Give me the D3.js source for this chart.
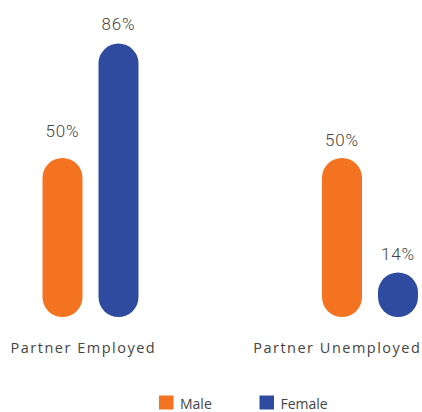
<!DOCTYPE html>
<html>
<head>
<meta charset="utf-8">
<script src="https://cdn.jsdelivr.net/npm/d3@7"></script>
<style>
  html, body { margin: 0; padding: 0; background: #ffffff; }
  svg { display: block; }
</style>
</head>
<body>
<svg id="chart" width="422" height="412"></svg>
<script>
// ---- data ----
const categories = ["Partner Employed", "Partner Unemployed"];
const series = ["Male", "Female"];
const maleValues = [50, 50];
const femaleValues = [86, 14];
const valueLabels = [["50%", "86%"], ["50%", "14%"]];

// ---- layout (not data) ----
const labelGap = [[21, 14], [12, 12]];
const colors = { Male: "#F37321", Female: "#2F4B9F" };
const textColor = "#444444";

const svg = d3.select("#chart");

const x0 = d3.scalePoint().domain(categories).range([90.5, 370]);
const x1 = d3.scaleBand().domain(series).range([-48, 48]).paddingInner(16 / 56).paddingOuter(0);
const labelX = d3.scalePoint().domain(categories).range([83.4, 337.3]);
const y = d3.scaleLinear().domain([0, 100]).range([317, -1]);

const rows = categories.map((c, i) => ({
  cat: c,
  i: i,
  bars: [
    { s: "Male", v: maleValues[i], label: valueLabels[i][0], gap: labelGap[i][0] },
    { s: "Female", v: femaleValues[i], label: valueLabels[i][1], gap: labelGap[i][1] }
  ]
}));

const groups = svg.selectAll("g.grp").data(rows).join("g")
  .attr("class", "grp")
  .attr("transform", d => `translate(${x0(d.cat)},0)`);

const bw = x1.bandwidth();

groups.selectAll("rect").data(d => d.bars).join("rect")
  .attr("x", d => x1(d.s))
  .attr("y", d => y(d.v))
  .attr("width", bw)
  .attr("height", d => y(0) - y(d.v))
  .attr("rx", bw / 2)
  .attr("ry", bw / 2)
  .attr("fill", d => colors[d.s]);

groups.selectAll("text.val").data(d => d.bars).join("text")
  .attr("class", "val")
  .attr("x", d => x1(d.s) + bw / 2)
  .attr("y", d => y(d.v) - d.gap)
  .attr("text-anchor", "middle")
  .attr("font-family", "Roboto, 'Open Sans', sans-serif")
  .attr("font-weight", 300)
  .attr("font-size", 17)
  .attr("letter-spacing", 0.8)
  .attr("fill", textColor)
  .text(d => d.label);

// category labels
svg.selectAll("text.cat").data(categories).join("text")
  .attr("class", "cat")
  .attr("x", d => labelX(d))
  .attr("y", 353.3)
  .attr("text-anchor", "middle")
  .attr("font-family", "'Open Sans', sans-serif")
  .attr("font-size", 14.5)
  .attr("letter-spacing", 1.5)
  .attr("fill", textColor)
  .text(d => d);

// legend
const legendX = d3.scalePoint().domain(series).range([159, 259.5]);
const leg = svg.selectAll("g.leg").data(series).join("g")
  .attr("class", "leg")
  .attr("transform", d => `translate(${legendX(d)},395.5)`);
leg.append("rect")
  .attr("width", 14.5).attr("height", 14)
  .attr("fill", d => colors[d]);
leg.append("text")
  .attr("x", 21)
  .attr("y", 13)
  .attr("font-family", "'Open Sans', sans-serif")
  .attr("font-size", 14)
  .attr("fill", textColor)
  .text(d => d);
</script>
</body>
</html>
